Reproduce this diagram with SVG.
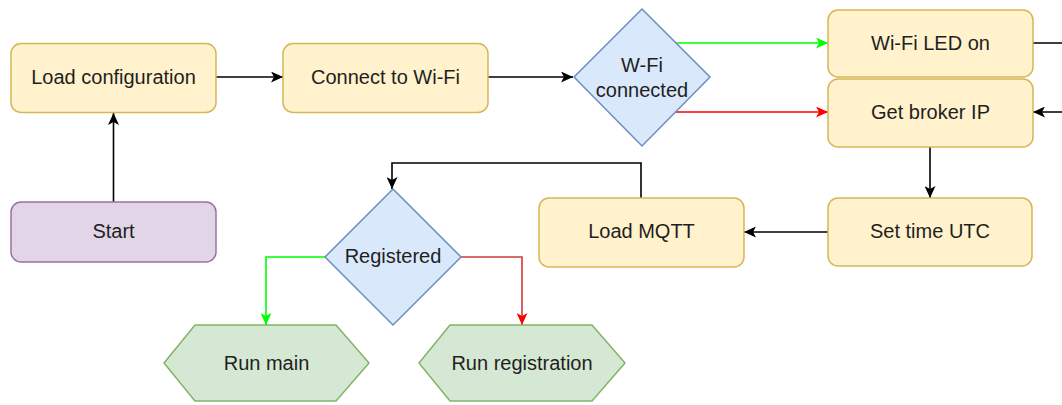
<svg xmlns="http://www.w3.org/2000/svg" width="1062" height="405" viewBox="0 0 1062 405">
<style>
.proc{fill:#fff2cc;stroke:#d6b656;stroke-width:1.5}
.start{fill:#e1d5e7;stroke:#9673a6;stroke-width:1.5}
.dec{fill:#dae8fc;stroke:#6c8ebf;stroke-width:1.5}
.hex{fill:#d5e8d4;stroke:#82b366;stroke-width:1.5}
text{font-family:"Liberation Sans",Arial,Helvetica,sans-serif;font-size:20px;fill:#1f1f1f;text-anchor:middle}
.c{fill:none;stroke-width:1.6}
.k{stroke:#000}
.g{stroke:#00ff00}
.r{stroke:#ff0000}
.dr{stroke:#d03a3a}
</style>
<defs>
<marker id="ak" viewBox="0 0 12 11" refX="12" refY="5.5" markerWidth="12" markerHeight="11" markerUnits="userSpaceOnUse" orient="auto"><path d="M0,0 L12,5.5 L0,11 L3,5.5 Z" fill="#000"/></marker>
<marker id="ag" viewBox="0 0 12 11" refX="12" refY="5.5" markerWidth="12" markerHeight="11" markerUnits="userSpaceOnUse" orient="auto"><path d="M0,0 L12,5.5 L0,11 L3,5.5 Z" fill="#00ff00"/></marker>
<marker id="ar" viewBox="0 0 12 11" refX="12" refY="5.5" markerWidth="12" markerHeight="11" markerUnits="userSpaceOnUse" orient="auto"><path d="M0,0 L12,5.5 L0,11 L3,5.5 Z" fill="#ff0000"/></marker>
</defs>
<g id="connectors">
<path class="c k" d="M216,77 L283,77" marker-end="url(#ak)"/>
<path class="c k" d="M488,77 L573,77" marker-end="url(#ak)"/>
<path class="c k" d="M113.5,202 L113.5,113" marker-end="url(#ak)"/>
<path class="c g" d="M676,43 L828,43" marker-end="url(#ag)"/>
<path class="c r" d="M676,112 L828,112" marker-end="url(#ar)"/>
<path class="c k" d="M1033,43 L1075,43 L1075,112 L1033,112" marker-end="url(#ak)"/>
<path class="c k" d="M930,147 L930,198" marker-end="url(#ak)"/>
<path class="c k" d="M828,232 L744,232" marker-end="url(#ak)"/>
<path class="c k" d="M641,198 L641,163 L392,163 L392,189" marker-end="url(#ak)"/>
<path class="c g" d="M325,257 L266,257 L266,325" marker-end="url(#ag)"/>
<path class="c dr" d="M461,257 L522,257 L522,325" marker-end="url(#ar)"/>
</g>
<g id="load-config"><rect class="proc" x="11" y="43.5" width="205" height="69" rx="10"/><text x="113.5" y="84">Load configuration</text></g>
<g id="connect-wifi"><rect class="proc" x="283" y="43.5" width="205" height="69" rx="10"/><text x="385.5" y="84">Connect to Wi-Fi</text></g>
<g id="wifi-connected"><polygon class="dec" points="642,9 710,77 642,146 574,77"/><text x="642" y="72">W-Fi</text><text x="642" y="97">connected</text></g>
<g id="wifi-led"><rect class="proc" x="828" y="10" width="205" height="67" rx="10"/><text x="930.5" y="50">Wi-Fi LED on</text></g>
<g id="broker-ip"><rect class="proc" x="828" y="79" width="205" height="68" rx="10"/><text x="930.5" y="119">Get broker IP</text></g>
<g id="set-time"><rect class="proc" x="828" y="198" width="204" height="68" rx="10"/><text x="930" y="238">Set time UTC</text></g>
<g id="load-mqtt"><rect class="proc" x="539" y="198" width="205" height="69" rx="10"/><text x="641.5" y="238">Load MQTT</text></g>
<g id="start"><rect class="start" x="11" y="202" width="205" height="60" rx="10"/><text x="113.5" y="238">Start</text></g>
<g id="registered"><polygon class="dec" points="393,189 461,257 393,325 325,257"/><text x="393" y="263">Registered</text></g>
<g id="run-main"><polygon class="hex" points="164,363 195,325 336,325 369,363 336,401 195,401"/><text x="266.5" y="370">Run main</text></g>
<g id="run-registration"><polygon class="hex" points="419,363 450,325 592,325 625,363 592,401 450,401"/><text x="522" y="370">Run registration</text></g>
</svg>
